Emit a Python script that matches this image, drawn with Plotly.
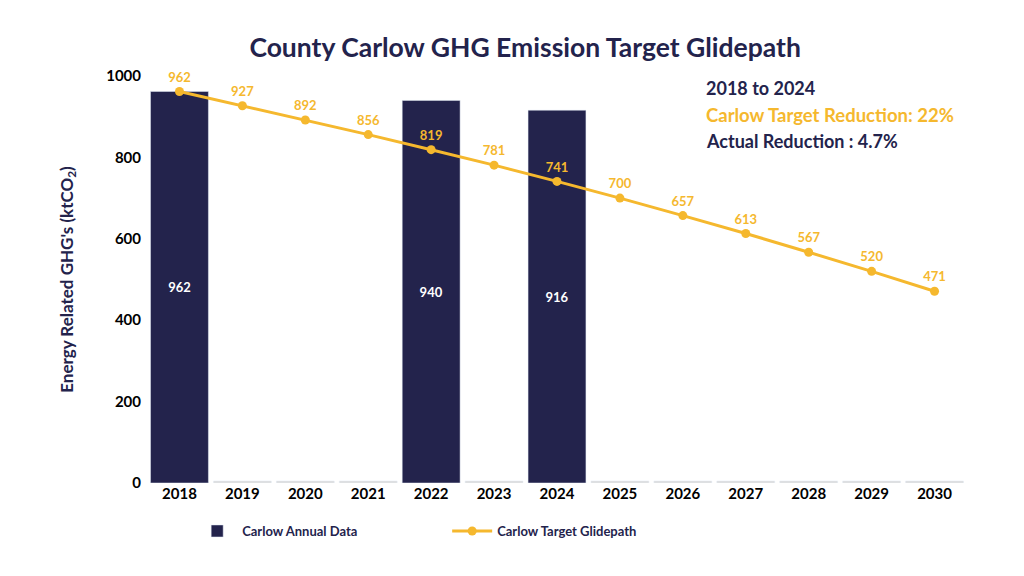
import plotly.graph_objects as go

years = ["2018","2019","2020","2021","2022","2023","2024","2025","2026","2027","2028","2029","2030"]
annual_years = ["2018","2022","2024"]
annual_values = [962, 940, 916]
target_values = [962, 927, 892, 856, 819, 781, 741, 700, 657, 613, 567, 520, 471]
baseline_values = [5]*len(years)

NAVY = "#23234c"
GOLD = "#f5b82e"
FONT = "Lato"

fig = go.Figure()
fig.add_trace(go.Bar(x=years, y=baseline_values, marker_color="#dcdcdc", showlegend=False, hoverinfo="skip"))
fig.add_trace(go.Bar(x=annual_years, y=annual_values, name="Carlow Annual Data", marker_color=NAVY,
                     text=[str(v) for v in annual_values],
                     textposition="inside", insidetextanchor="middle",
                     textfont=dict(color="white", size=13, family=FONT, weight="bold")))
fig.add_trace(go.Scatter(x=years, y=target_values, name="Carlow Target Glidepath", mode="lines+markers+text",
                         line=dict(color=GOLD, width=3), marker=dict(color=GOLD, size=9),
                         text=[str(v) for v in target_values],
                         textposition="top center", cliponaxis=False,
                         textfont=dict(color=GOLD, size=13, family=FONT, weight="bold")))

fig.update_layout(
    width=1024, height=576, paper_bgcolor="white", plot_bgcolor="white",
    barmode="overlay", bargap=0.08,
    font=dict(family=FONT, color="black"),
    title=dict(text="County Carlow GHG Emission Target Glidepath", x=0.505, xanchor="center",
               y=1 - 40/576, yanchor="middle", yref="container",
               font=dict(size=26.5, color=NAVY, family=FONT, weight="bold")),
    margin=dict(l=140, r=66, t=68, b=101, autoexpand=False),
    xaxis=dict(range=[-0.5, 12.5], showgrid=False, showline=False, ticks="", automargin=False,
               tickfont=dict(size=15, color="black", family=FONT, weight="bold")),
    yaxis=dict(range=[0, 1000], tickvals=[0, 200, 400, 600, 800, 1000], showgrid=False, zeroline=False,
               automargin=False, ticklabelstandoff=6,
               tickfont=dict(size=15, color="black", family=FONT, weight="bold"),
               title=dict(text="Energy Related GHG's (ktCO<sub>2</sub>)",
                          font=dict(size=17, color=NAVY, family=FONT, weight="bold"), standoff=28)),
    legend=dict(orientation="h", x=0.054, y=-0.118, xanchor="left", yanchor="middle",
                font=dict(size=13, color=NAVY, family=FONT, weight="bold"), itemwidth=40, entrywidth=200),
)
ax = 0.68
fig.add_annotation(text="2018 to 2024", xref="paper", yref="paper", x=ax, y=0.970, xanchor="left",
                   yanchor="middle", showarrow=False, font=dict(size=18, color=NAVY, family=FONT, weight="bold"))
fig.add_annotation(text="Carlow Target Reduction: 22%", xref="paper", yref="paper", x=ax, y=0.904,
                   xanchor="left", yanchor="middle", showarrow=False, font=dict(size=18.5, color=GOLD, family=FONT, weight="bold"))
fig.add_annotation(text="Actual Reduction : 4.7%", xref="paper", yref="paper", x=ax, y=0.840,
                   xanchor="left", yanchor="middle", showarrow=False, font=dict(size=18, color=NAVY, family=FONT, weight="bold"))
fig.write_html("out.html")
